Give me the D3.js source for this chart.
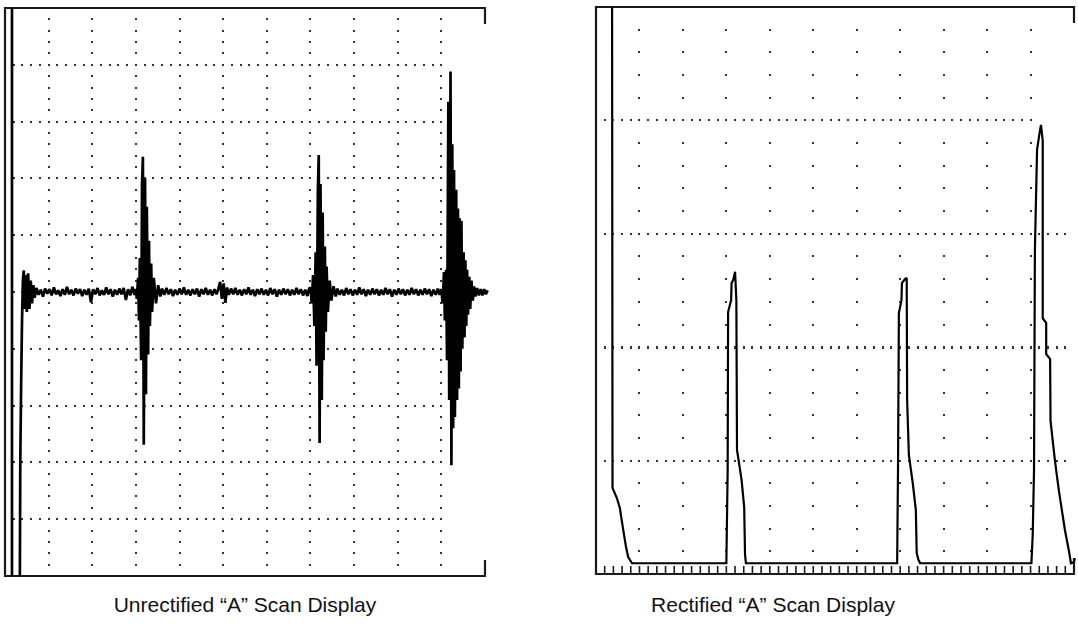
<!DOCTYPE html>
<html><head><meta charset="utf-8">
<script src="https://cdn.jsdelivr.net/npm/d3@7"></script>
<style>html,body{margin:0;padding:0;background:#fff;} svg{display:block;}</style>
</head><body>
<svg id="chart" width="1078" height="625"></svg>
<script>
// ---------- DATA ----------
const captions = ["Unrectified \u201CA\u201D Scan Display", "Rectified \u201CA\u201D Scan Display"];
// time axis in screen divisions (11 across), amplitude in divisions (-5..5) for unrectified
const timeDivisions = [1,2,3,4,5,6,7,8,9,10];
const unrectLevels = [-4,-3,-2,-1,0,1,2,3,4];
// rectified amplitude in % of full screen height
const rectLevels = [20,40,60,80];

// unrectified A-scan trace: [time (div), amplitude (div)]
const unrectifiedTrace = [
  [0.16,5.2],[0.16,-5.2],[0.34,-5.2],[0.35,-3.0],[0.37,-1.6],[0.39,-0.5],[0.41,0.2],[0.43,0.38],[0.45,-0.3],
  [0.47,0.3],[0.50,-0.35],[0.53,0.33],[0.56,-0.3],[0.59,0.2],[0.62,-0.2],[0.65,0.12],[0.68,-0.1],
  [0.72,0.07],[0.77,-0.05],[0.82,0.04],[0.87,-0.08],[0.92,0.06],[0.97,-0.03],[1.02,0.05],[1.07,-0.06],[1.12,0.08],
  [1.17,-0.04],[1.22,0.03],[1.27,-0.07],[1.32,0.05],[1.37,-0.05],[1.42,0.09],[1.47,-0.04],[1.52,0.04],[1.57,-0.06],
  [1.62,0.06],[1.67,-0.03],[1.72,0.05],[1.77,-0.07],[1.82,0.04],[1.87,-0.05],[1.92,0.06],[1.97,-0.18],[2.02,0.05],
  [2.07,-0.04],[2.12,0.07],[2.17,-0.06],[2.22,0.03],[2.27,-0.05],[2.32,0.08],[2.37,-0.04],[2.42,0.05],[2.47,-0.08],
  [2.52,0.04],[2.57,-0.05],[2.62,0.06],[2.67,-0.04],[2.72,0.07],[2.77,-0.14],[2.82,0.05],[2.87,-0.06],[2.92,0.09],
  [2.97,-0.05],
  [3.00,0.05],[3.02,-0.12],[3.05,0.25],[3.07,-0.5],[3.09,0.6],[3.12,-1.2],[3.14,1.9],[3.16,2.38],[3.18,-2.69],
  [3.21,2.0],[3.23,-1.8],[3.25,1.5],[3.28,-1.1],[3.30,0.9],[3.32,-0.6],[3.35,0.5],[3.37,-0.35],[3.41,0.25],
  [3.46,-0.2],[3.51,0.12],[3.56,-0.08],
  [3.60,0.06],[3.65,-0.05],[3.70,0.07],[3.75,-0.04],[3.80,0.05],[3.85,-0.07],[3.90,0.04],[3.95,-0.05],[4.00,0.06],
  [4.05,-0.04],[4.10,0.08],[4.15,-0.05],[4.20,0.04],[4.25,-0.06],[4.30,0.05],[4.35,-0.04],[4.40,0.06],[4.45,-0.08],
  [4.50,0.05],[4.55,-0.04],[4.60,0.07],[4.65,-0.05],[4.70,0.04],[4.75,-0.06],[4.80,0.05],[4.85,-0.04],[4.89,0.06],
  [4.93,0.18],[4.97,-0.12],[5.01,0.15],[5.05,-0.19],[5.09,0.08],
  [5.13,-0.05],[5.18,0.06],[5.23,-0.04],[5.28,0.07],[5.33,-0.05],[5.38,0.04],[5.43,-0.06],[5.48,0.05],[5.53,-0.04],
  [5.58,0.08],[5.63,-0.05],[5.68,0.04],[5.73,-0.07],[5.78,0.05],[5.83,-0.04],[5.88,0.06],[5.93,-0.05],[5.98,0.04],
  [6.03,-0.06],[6.08,0.07],[6.13,-0.04],[6.18,0.05],[6.23,-0.08],[6.28,0.04],[6.33,-0.05],[6.38,0.06],[6.43,-0.04],
  [6.48,0.05],[6.53,-0.06],[6.58,0.04],[6.63,-0.05],[6.68,0.07],[6.73,-0.04],[6.78,0.05],[6.83,-0.06],[6.88,0.04],
  [6.93,-0.07],[6.97,0.06],
  [7.00,0.08],[7.03,-0.2],[7.06,0.3],[7.09,-0.6],[7.12,0.7],[7.14,-1.3],[7.17,1.8],[7.19,2.41],[7.21,-2.66],
  [7.23,1.9],[7.26,-1.9],[7.28,1.4],[7.30,-1.2],[7.33,0.8],[7.35,-0.7],[7.37,0.45],[7.40,-0.35],[7.44,0.2],
  [7.48,-0.15],[7.53,0.1],[7.58,-0.08],
  [7.62,0.06],[7.67,-0.05],[7.72,0.04],[7.77,-0.06],[7.82,0.07],[7.87,-0.04],[7.92,0.05],[7.97,-0.06],[8.02,0.04],
  [8.07,-0.05],[8.12,0.08],[8.17,-0.04],[8.22,0.05],[8.27,-0.07],[8.32,0.04],[8.37,-0.05],[8.42,0.06],[8.47,-0.04],
  [8.52,0.05],[8.57,-0.06],[8.62,0.04],[8.67,-0.05],[8.72,0.07],[8.77,-0.04],[8.82,0.05],[8.87,-0.08],[8.92,0.04],
  [8.97,-0.05],[9.02,0.06],[9.07,-0.04],[9.12,0.05],[9.17,-0.06],[9.22,0.04],[9.27,-0.05],[9.32,0.07],[9.37,-0.04],
  [9.42,0.05],[9.47,-0.06],[9.52,0.04],[9.57,-0.05],[9.62,0.06],[9.67,-0.04],[9.72,0.05],[9.77,-0.07],[9.82,0.04],
  [9.87,-0.05],[9.92,0.06],[9.96,-0.05],
  [10.00,0.05],[10.03,-0.2],[10.06,0.35],[10.08,-0.5],[10.11,0.39],[10.13,-1.2],[10.16,3.35],[10.18,-1.9],
  [10.21,3.88],[10.23,-3.05],[10.25,2.6],[10.27,-2.4],[10.29,2.15],[10.31,-2.2],[10.34,1.8],[10.36,-1.9],
  [10.38,1.47],[10.40,-1.7],[10.42,1.30],[10.44,-1.4],[10.46,1.25],[10.48,-1.0],[10.51,0.7],[10.53,-0.8],
  [10.55,0.56],[10.57,-0.6],[10.59,0.39],[10.61,-0.4],[10.64,0.27],[10.66,-0.3],[10.69,0.2],[10.72,-0.15],
  [10.75,0.1],[10.78,-0.08],[10.82,0.07],[10.86,-0.06],[10.90,0.05],[10.94,-0.06],[10.98,0.05],[11.02,-0.04],[11.06,0.03]
];

// rectified A-scan trace: [time (div), amplitude (% screen height)]
const rectifiedTrace = [
  [0.37,101],[0.38,15.2],[0.48,13.4],[0.55,11.6],[0.62,8.1],[0.69,4.8],[0.74,3.0],[0.83,1.9],
  [3.00,1.9],[3.03,18.3],[3.04,46.2],[3.11,48.3],[3.12,51.3],[3.16,51.9],[3.20,53.3],[3.23,48.3],
  [3.245,21.9],[3.35,16.6],[3.41,11.8],[3.43,3.4],[3.45,1.9],
  [6.93,1.9],[6.95,18.3],[6.97,46.0],[7.03,48.3],[7.04,51.3],[7.11,52.0],[7.15,52.2],[7.16,30.7],
  [7.20,21.0],[7.29,16.0],[7.36,11.3],[7.38,3.7],[7.42,2.5],[7.46,1.9],
  [10.02,1.9],[10.05,6.9],[10.08,18.3],[10.10,57.1],[10.15,74.8],[10.20,77.4],[10.24,79.2],[10.28,76.5],
  [10.28,45.1],[10.36,44.3],[10.36,38.8],[10.45,37.9],[10.46,27.0],[10.56,20.1],[10.65,14.8],[10.73,10.8],
  [10.79,7.8],[10.88,4.2],[10.93,1.9],[11.0,2.1],[11.02,2.8]
];

// ---------- DRAW ----------
const svg = d3.select("#chart");
const ink = "#1a1a1a";

function panel(opts) {
  const g = svg.append("g");
  const x = d3.scaleLinear().domain([0, 11]).range(opts.xr);
  const y = d3.scaleLinear().domain(opts.yd).range(opts.yr);
  const [x0, x1] = opts.xr, [yb, yt] = opts.yr;
  const dots = [];
  timeDivisions.forEach(k => {
    d3.range(1, opts.vSub).forEach(j => {
      dots.push([x(k), yb + (yt - yb) * j / opts.vSub, false]);
    });
  });
  opts.levels.forEach((lv, li) => {
    const n = opts.hExtent(li);
    d3.range(1, n + 1).forEach(i => {
      dots.push([x(i * 0.2), y(lv), opts.boldLevel === lv]);
    });
  });
  g.selectAll("rect.dot").data(dots).join("rect")
    .attr("x", d => Math.round(d[0]) - 1).attr("y", d => Math.round(d[1]) - 1)
    .attr("width", 2).attr("height", d => d[2] ? 3 : 2).attr("fill", "#333");

  const frame = d3.path();
  frame.moveTo(x1, yt + opts.tick); frame.lineTo(x1, yt); frame.lineTo(x0, yt);
  frame.lineTo(x0, yb); frame.lineTo(x1, yb); frame.lineTo(x1, yb - opts.tick);
  g.append("path").attr("d", frame.toString()).attr("fill", "none")
    .attr("stroke", ink).attr("stroke-width", 2.2);

  const clipId = "clip" + opts.id;
  svg.append("clipPath").attr("id", clipId).append("rect")
    .attr("x", x0).attr("y", yt).attr("width", x1 - x0 + 4).attr("height", yb - yt);
  const line = d3.line().x(d => x(d[0])).y(d => y(d[1]));
  g.append("path").datum(opts.trace).attr("clip-path", `url(#${clipId})`)
    .attr("d", line).attr("fill", "none").attr("stroke", "#000")
    .attr("stroke-width", opts.traceWidth).attr("stroke-linejoin", "miter").attr("stroke-miterlimit", 2);
  return {g, x, y};
}

const L = panel({
  id: "L", xr: [5, 485], yr: [576, 8], yd: [-5, 5], vSub: 50, levels: unrectLevels,
  hExtent: li => 50, tick: 16, trace: unrectifiedTrace, traceWidth: 2.7
});

const R = panel({
  id: "R", xr: [596, 1074], yr: [574, 7], yd: [0, 100], vSub: 25, levels: rectLevels,
  hExtent: li => li === 3 ? 50 : 54, boldLevel: 40, tick: 16, trace: rectifiedTrace, traceWidth: 2.2
});

// rectified display baseline graticule ticks
const rTicks = d3.range(1, 55);
R.g.selectAll("line.rt").data(rTicks).join("line")
  .attr("x1", d => R.x(d * 0.2)).attr("x2", d => R.x(d * 0.2))
  .attr("y1", R.y(0)).attr("y2", R.y(0) - 8)
  .attr("stroke", ink).attr("stroke-width", 1.6);

// captions
svg.selectAll("text.cap").data(captions).join("text")
  .attr("x", (d, i) => i === 0 ? 245 : 773).attr("y", 612)
  .attr("text-anchor", "middle")
  .attr("font-family", "'Liberation Sans', Arial, Helvetica, sans-serif")
  .attr("font-size", 21).attr("fill", "#111")
  .text(d => d);
</script>
</body></html>
